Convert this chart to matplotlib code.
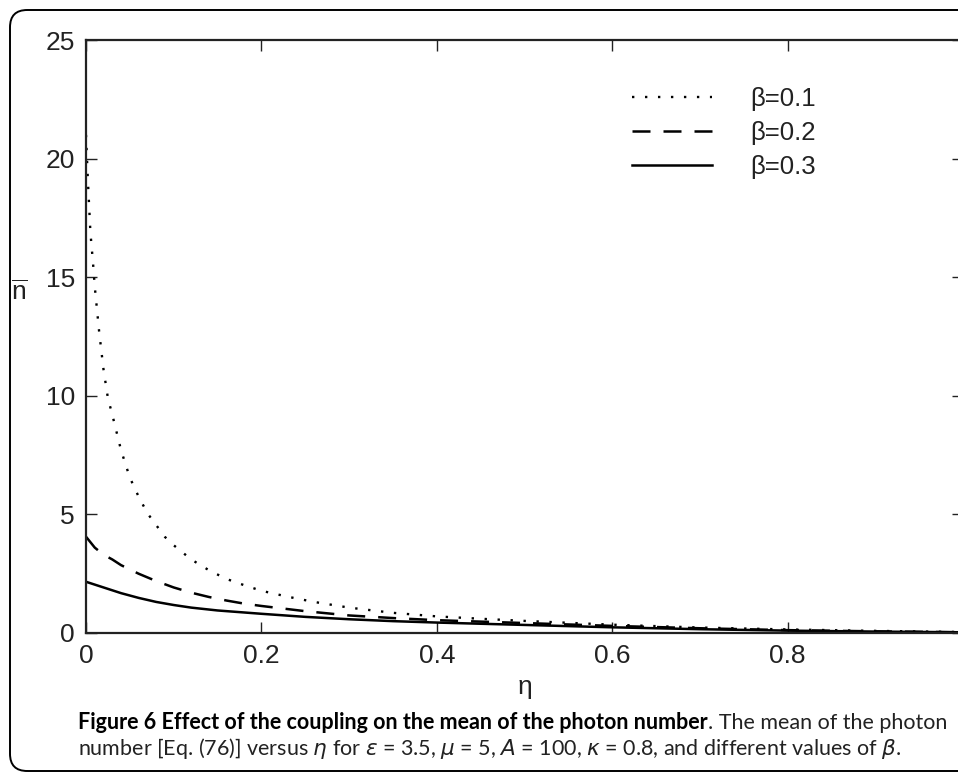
import matplotlib
matplotlib.use("Agg")
import matplotlib.pyplot as plt
from matplotlib.patches import FancyBboxPatch

# ---- data ----
eta1 = [0, 0.002, 0.005, 0.008, 0.01, 0.015, 0.02, 0.025, 0.03, 0.04, 0.05, 0.06,
        0.07, 0.08, 0.09, 0.10, 0.12, 0.14, 0.16, 0.18, 0.20, 0.23, 0.26, 0.30,
        0.35, 0.40, 0.45, 0.50, 0.60, 0.70, 0.80, 0.90, 1.0]
n1 = [21.0, 19.2, 16.9, 15.6, 14.6, 12.7, 11.1, 9.9, 9.2, 7.7, 6.55, 5.75,
      5.05, 4.55, 4.05, 3.7, 3.1, 2.65, 2.28, 2.02, 1.78, 1.53, 1.31, 1.07,
      0.85, 0.70, 0.60, 0.51, 0.35, 0.23, 0.15, 0.09, 0.04]

eta2 = [0, 0.01, 0.02, 0.03, 0.04, 0.06, 0.08, 0.10, 0.12, 0.14, 0.16, 0.18,
        0.20, 0.25, 0.30, 0.35, 0.40, 0.50, 0.60, 0.70, 0.80, 0.90, 1.0]
n2 = [4.06, 3.6, 3.3, 3.1, 2.86, 2.5, 2.19, 1.92, 1.70, 1.52, 1.37, 1.24,
      1.14, 0.92, 0.74, 0.63, 0.54, 0.42, 0.30, 0.20, 0.12, 0.07, 0.03]

eta3 = [0, 0.02, 0.04, 0.06, 0.08, 0.10, 0.12, 0.15, 0.2, 0.25, 0.3, 0.35,
        0.4, 0.5, 0.6, 0.7, 0.8, 0.9, 1.0]
n3 = [2.16, 1.92, 1.68, 1.48, 1.31, 1.18, 1.07, 0.95, 0.81, 0.68, 0.58, 0.50,
      0.44, 0.34, 0.24, 0.16, 0.10, 0.06, 0.03]

labels = ["β=0.1", "β=0.2", "β=0.3"]
xticks = [0, 0.2, 0.4, 0.6, 0.8]
xticklabels = ["0", "0.2", "0.4", "0.6", "0.8"]
yticks = [0, 5, 10, 15, 20, 25]

caption_bold = "Figure 6 Effect of the coupling on the mean of the photon number"
caption_rest = ". The mean of the photon"
caption_line2 = (r"number [Eq. (76)] versus $\eta$ for $\varepsilon$ = 3.5, $\mu$ = 5, "
                 r"$A$ = 100, $\kappa$ = 0.8, and different values of $\beta$.")

plt.rcParams["mathtext.fontset"] = "dejavusans"

W, H = 958, 774
fig = plt.figure(figsize=(W / 100, H / 100), dpi=100)

# rounded frame (right side runs off the canvas, as in the reference)
frame = FancyBboxPatch((10 / W, 3 / H), 1000 / W, 761 / H,
                       boxstyle="round,pad=0,rounding_size=0.018",
                       transform=fig.transFigure, fill=False,
                       edgecolor="black", linewidth=1.4, mutation_aspect=W / H)
fig.patches.append(frame)

ax = fig.add_axes([86 / W, (H - 633) / H, 877 / W, 593 / H])
tf = "Liberation Sans"
ax.plot(eta1, n1, color="black", linestyle=(0, (1.0, 4.5)), linewidth=1.7, label=labels[0])
ax.plot(eta2, n2, color="black", linestyle=(0, (7.2, 5.2)), linewidth=1.8, label=labels[1])
ax.plot(eta3, n3, color="black", linestyle="-", linewidth=1.8, label=labels[2])

ax.set_xlim(0, 1)
ax.set_ylim(0, 25)
ax.set_xticks(xticks)
ax.set_xticklabels(xticklabels)
ax.set_yticks(yticks)
for lab in ax.get_xticklabels() + ax.get_yticklabels():
    lab.set_fontfamily(tf)
    lab.set_fontsize(19)
    lab.set_color("#222222")
ax.tick_params(direction="in", length=8, width=1, top=True, right=True,
               pad=8, colors="#222222", labelcolor="#222222")
for s in ax.spines.values():
    s.set_linewidth(1.6)
    s.set_color("#222222")

ax.set_xlabel("η", fontfamily=tf, fontsize=19, labelpad=5, color="#222222")
ax.set_ylabel(r"$\mathregular{\overline{n}}$", fontsize=19, rotation=0,
              color="#222222", fontfamily=tf, ha="center", va="center")
ax.yaxis.set_label_coords(-0.076, 0.575)

leg = ax.legend(loc="upper left", bbox_to_anchor=(632 / W, (H - 87) / H),
                bbox_transform=fig.transFigure, frameon=False,
                prop={"family": tf, "size": 18.5}, handlelength=3.1,
                handletextpad=1.5, labelspacing=0.38, borderpad=0,
                borderaxespad=0)
for t in leg.get_texts():
    t.set_color("#222222")

cf = "Lato"
fs = 15.5
t1 = fig.text(78 / W, (H - 729) / H, caption_bold, fontfamily=cf,
              fontweight="bold", fontsize=fs, va="baseline", ha="left")
ax.annotate(caption_rest, xy=(1, 0), xycoords=t1, va="bottom", ha="left",
            fontfamily=cf, fontsize=fs, color="#222222",
            annotation_clip=False)
fig.text(78 / W, (H - 755) / H, caption_line2, fontfamily=cf, fontsize=fs,
         va="baseline", ha="left", color="#222222")

fig.savefig("out.png", dpi=100)
